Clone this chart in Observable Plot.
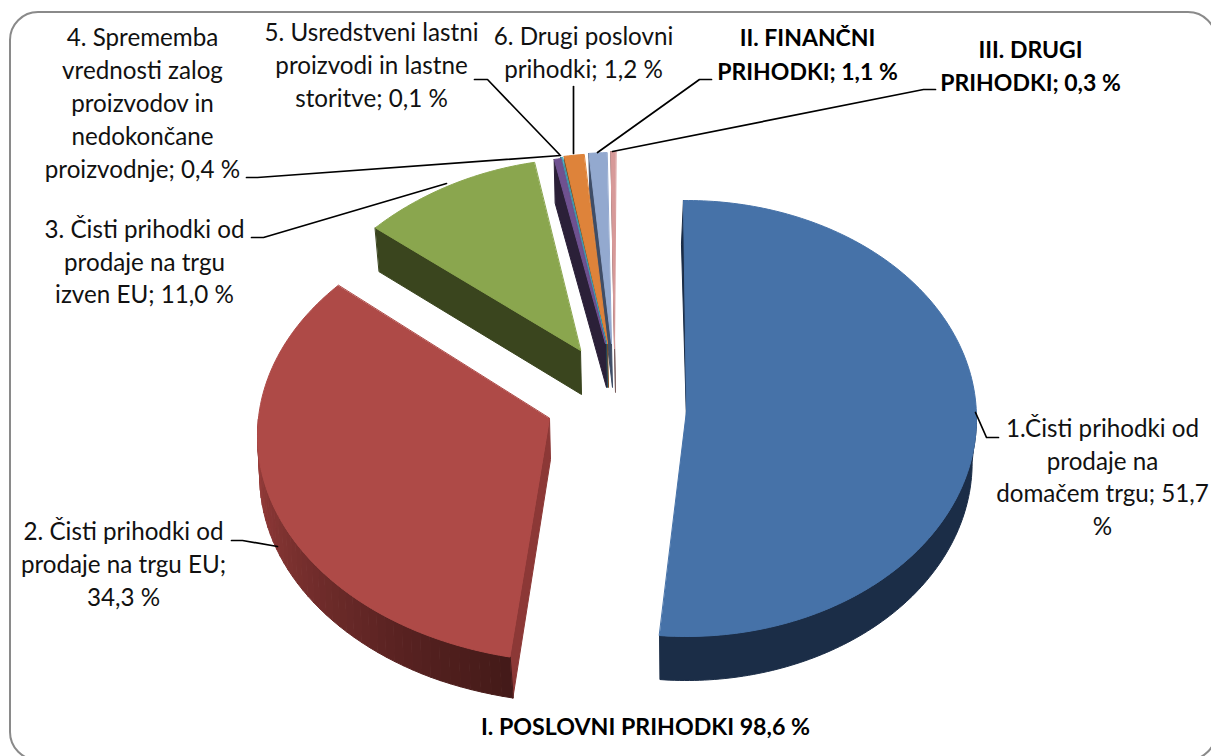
<!DOCTYPE html>
<html>
<head>
<meta charset="utf-8">
<script src="https://cdn.jsdelivr.net/npm/d3@7"></script>
<script src="https://cdn.jsdelivr.net/npm/@observablehq/plot@0.6"></script>
<style>html,body{margin:0;padding:0;background:#fff;overflow:hidden}svg{display:block}</style>
</head>
<body>
<script>
// ---- data ----
const sliceNames = ["1.Čisti prihodki od prodaje na domačem trgu","2. Čisti prihodki od prodaje na trgu EU","3. Čisti prihodki od prodaje na trgu izven EU","4. Sprememba vrednosti zalog proizvodov in nedokončane proizvodnje","5. Usredstveni lastni proizvodi in lastne storitve","6. Drugi poslovni prihodki","II. FINANČNI PRIHODKI","III. DRUGI PRIHODKI"];
const sliceValues = [51.7,34.3,11.0,0.4,0.1,1.2,1.1,0.3];
const labelLines = [
  ["1.Čisti prihodki od","prodaje na","domačem trgu; 51,7","%"],
  ["2. Čisti prihodki od","prodaje na trgu EU;","34,3 %"],
  ["3. Čisti prihodki od","prodaje na trgu","izven EU; 11,0 %"],
  ["4. Sprememba","vrednosti zalog","proizvodov in","nedokončane","proizvodnje; 0,4 %"],
  ["5. Usredstveni lastni","proizvodi in lastne","storitve; 0,1 %"],
  ["6. Drugi poslovni","prihodki; 1,2 %"],
  ["II. FINANČNI","PRIHODKI; 1,1 %"],
  ["III. DRUGI","PRIHODKI; 0,3 %"]
];
const footerLabel = "I. POSLOVNI PRIHODKI 98,6 %";

// ---- style and layout ----
const topColors  = ["#4672a8","#ae4a47","#8aa64e","#6f5190","#3da0b5","#de833a","#93a9cf","#d79a99"];
const wallColors = ["#1b2d47","#8c3836","#3a451e","#2b2038","#1f5060","#7e4a1e","#3f4d66","#7b5f5f"];
const centersX = [686,580,587,607,607,609,614,618];
const centersY = [418,435,343,345,344,343,342,341];
const radiiX   = [290,323,290,290,290,290,290,290];
const radiiY   = [218,227,185,190,190,190,190,190];
const perspK   = [0,0,0.1,0.1,0.1,0.1,0.1,0.1];
const sweepShift = [[0,0],[7.3,2.7],[0,0],[0,0],[0,0],[0,0],[0,0],[0,0]];
const apexX    = [686,549,580,605,606,607,611,614];
const apexY    = [410,418,350,343,343,343,343,348];
const cutDx    = [-2,3,4,1,1,1,1,1];
const rimShrink = [0.985,0.993,1,1,1,1,1,1];
const depths   = [44,41,44,44,44,44,44,44];
const startDeg = -0.6;
const labelX = [1102,123,144,142,371,583,807,1030];
const labelY = [[429,462,494,527],[532,565,598],[230,263,295],[38,71,104,137,170],[33,66,99],[37,70],[38,72],[50,83]];
const bold = [false,false,false,false,false,false,true,true];
const leaders = [
  [[975,412],[986,437],[998,437]],
  [[231,540],[242,540],[277,546]],
  [[251,237],[263,237],[446,183]],
  [[246,177],[257,177],[560,155]],
  [[474,79],[487,79],[559,154]],
  [[573,86],[573,153]],
  [[711,79],[699,79],[597,152]],
  [[935,89],[923,89],[612,151]]
];

// ---- slice geometry derived from the values ----
const total = d3.sum(sliceValues);
const rad = d => d * Math.PI / 180;
let acc = startDeg;
const arcs = sliceValues.map(v => { const a0 = acc; acc += v / total * 360; return [a0, acc]; });

function rim(i, deg, dy = 0, shrink = 1) {
  const [a0, a1] = arcs[i], [d0, d1] = sweepShift[i];
  const t = rad(deg + d0 + (d1 - d0) * (deg - a0) / (a1 - a0)), s = Math.sin(t), c = Math.cos(t);
  return [centersX[i] + radiiX[i] * shrink * s * (1 - perspK[i] * c), centersY[i] + dy - radiiY[i] * c];
}
// lower rim of the outer wall; near the slice's cut it meets the cut wall's lower corner
function lowerRim(i, deg) {
  const p = rim(i, deg, depths[i], rimShrink[i]);
  if (i === 1) p[0] += 2.5 * Math.max(0, 1 - (deg - arcs[i][0]) / 15);
  return p;
}
function angles(a0, a1, step = 1) {
  const n = Math.max(1, Math.ceil(Math.abs(a1 - a0) / step));
  return d3.range(n + 1).map(k => a0 + (a1 - a0) * k / n);
}
const polys = [];
const addPoly = (pts, color) => {
  const id = polys.length ? polys[polys.length - 1].id + 1 : 0;
  pts.forEach(p => polys.push({id, x: p[0], y: p[1], color}));
};
const redShade = d3.scaleLinear().domain([185, 205, 255]).range(["#431a18","#562120","#8c3836"]).interpolate(d3.interpolateRgb);

[2,7,6,5,4,3,1,0].forEach(i => {
  const [a0, a1] = arcs[i];
  // cut wall at the slice's start
  const r0 = rim(i, a0);
  addPoly([r0, [apexX[i], apexY[i]], [apexX[i] + 1, apexY[i] + depths[i]], [r0[0] + cutDx[i], r0[1] + depths[i]]], wallColors[i]);
  // outer wall
  const lo = Math.max(a0, 90), hi = Math.min(a1, 270);
  if (hi > lo) {
    if (i === 1) {
      d3.pairs(angles(lo, hi, 2)).forEach(([p, q]) => addPoly([rim(i,p), rim(i,q), lowerRim(i,q), lowerRim(i,p)], d3.color(redShade((p+q)/2)).formatHex()));
    } else {
      const st = angles(lo, hi);
      addPoly([...st.map(a => rim(i,a)), ...st.slice().reverse().map(a => lowerRim(i,a))], wallColors[i]);
    }
  }
  // top face
  addPoly([[apexX[i], apexY[i]], ...angles(a0, a1).map(a => rim(i, a))], topColors[i]);
});

const textRows = labelLines.flatMap((lines, i) => lines.map((t, j) => ({t, x: labelX[i], y: labelY[i][j], b: bold[i]})));
const leaderPts = leaders.flatMap((l, i) => l.map(p => ({i, x: p[0], y: p[1]})));

const plot = Plot.plot({
  width: 1211, height: 756, margin: 0,
  x: {domain: [0, 1211], range: [0, 1211], axis: null},
  y: {domain: [0, 756], range: [0, 756], axis: null},
  style: {background: "#fff"},
  marks: [
    Plot.rect([{}], {x1: () => 10, x2: () => 1216, y1: () => 12, y2: () => 760, rx: 28, fill: "#fff", stroke: "#8a8a8a", strokeWidth: 2}),
    Plot.line(polys, {x: "x", y: "y", z: "id", fill: "color", stroke: "color", strokeWidth: 1, curve: "linear-closed"}),
    Plot.line(leaderPts, {x: "x", y: "y", z: "i", stroke: "#000", strokeWidth: 1.7}),
    Plot.text(textRows.filter(d => !d.b), {x: "x", y: "y", text: "t", fontFamily: "Lato", fontSize: 24.2, fill: "#111", textAnchor: "middle", lineAnchor: "middle"}),
    Plot.text(textRows.filter(d => d.b), {x: "x", y: "y", text: "t", fontFamily: "Lato", fontSize: 23, fontWeight: 700, fill: "#000", textAnchor: "middle", lineAnchor: "middle"}),
    Plot.text([footerLabel], {x: () => 645, y: () => 727, text: d => d, fontFamily: "Lato", fontSize: 23.2, fontWeight: 700, fill: "#000", textAnchor: "middle", lineAnchor: "middle"})
  ]
});
document.body.appendChild(plot);
</script>
</body>
</html>
